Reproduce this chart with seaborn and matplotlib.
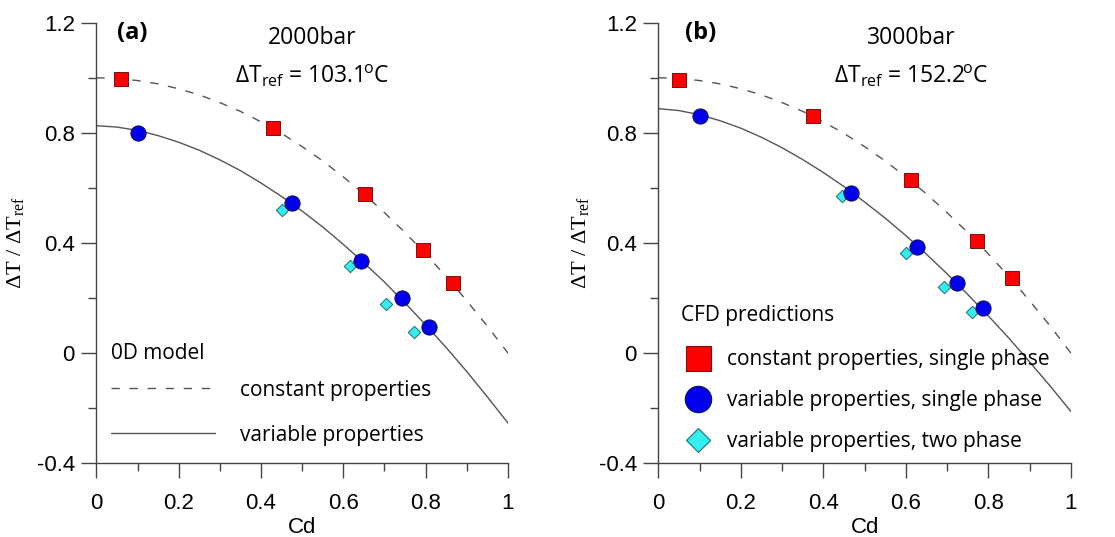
import numpy as np
import pandas as pd
import matplotlib
matplotlib.use("Agg")
import matplotlib.pyplot as plt
from matplotlib.lines import Line2D
import seaborn as sns

# ---------------- data ----------------
cd_grid = [0.0, 0.05, 0.1, 0.15, 0.2, 0.25, 0.3, 0.35, 0.4, 0.45, 0.5,
           0.55, 0.6, 0.65, 0.7, 0.75, 0.8, 0.85, 0.9, 0.95, 1.0]
# 0D model, constant properties (same for both pressures)
model_const = [1.0, 0.998, 0.99, 0.978, 0.96, 0.938, 0.91, 0.878, 0.84, 0.798, 0.75,
               0.698, 0.64, 0.578, 0.51, 0.438, 0.36, 0.278, 0.19, 0.098, 0.0]
# 0D model, variable properties
model_var_a = [0.826, 0.821, 0.809, 0.790, 0.766, 0.737, 0.702, 0.663, 0.618, 0.569, 0.516,
               0.458, 0.395, 0.328, 0.258, 0.182, 0.103, 0.020, -0.067, -0.159, -0.254]
model_var_b = [0.888, 0.881, 0.866, 0.844, 0.817, 0.784, 0.746, 0.703, 0.656, 0.605, 0.549,
               0.490, 0.427, 0.359, 0.288, 0.213, 0.135, 0.054, -0.032, -0.120, -0.212]

# CFD, panel (a) 2000 bar
a_const_cd = [0.06, 0.43, 0.653, 0.793, 0.867]
a_const_dt = [0.996, 0.817, 0.579, 0.375, 0.254]
a_var_cd = [0.102, 0.475, 0.642, 0.742, 0.809]
a_var_dt = [0.799, 0.547, 0.336, 0.200, 0.094]
a_two_cd = [0.452, 0.615, 0.703, 0.772]
a_two_dt = [0.520, 0.315, 0.178, 0.076]

# CFD, panel (b) 3000 bar
b_const_cd = [0.05, 0.375, 0.613, 0.773, 0.857]
b_const_dt = [0.992, 0.862, 0.629, 0.409, 0.272]
b_var_cd = [0.102, 0.466, 0.626, 0.723, 0.786]
b_var_dt = [0.861, 0.581, 0.387, 0.256, 0.163]
b_two_cd = [0.445, 0.600, 0.693, 0.760]
b_two_dt = [0.571, 0.365, 0.242, 0.150]

panel_tags = ["(a)", "(b)"]
pressures = ["2000bar", "3000bar"]
dt_refs = ["103.1", "152.2"]
xticks = [0, 0.2, 0.4, 0.6, 0.8, 1]
xticklabels = ["0", "0.2", "0.4", "0.6", "0.8", "1"]
yticks = [-0.4, 0, 0.4, 0.8, 1.2]
yticklabels = ["-0.4", "0", "0.4", "0.8", "1.2"]

# ---------------- style ----------------
sns.set_theme(style="ticks")
plt.rcParams["font.family"] = ["Open Sans", "DejaVu Sans"]
plt.rcParams["mathtext.fontset"] = "dejavusans"
plt.rcParams["text.color"] = "black"
plt.rcParams["axes.labelcolor"] = "black"
plt.rcParams["xtick.labelcolor"] = "black"
plt.rcParams["ytick.labelcolor"] = "black"

RED, RED_E = "#ff0000", "#7a1010"
BLUE, BLUE_E = "#0000ee", "#10104a"
CYAN, CYAN_E = "#33f0f0", "#1f6f70"
LINE_C = "#555555"
SPINE_C = "#444444"
DASH = (0, (6, 7))

fig = plt.figure(figsize=(11.15, 5.37), dpi=100)
ax_a = fig.add_axes([0.0864, 0.1372, 0.3692, 0.8205])
ax_b = fig.add_axes([0.5904, 0.1372, 0.3701, 0.8205])

panels = [
    (ax_a, model_var_a, a_const_cd, a_const_dt, a_var_cd, a_var_dt, a_two_cd, a_two_dt, 0.525, -0.168),
    (ax_b, model_var_b, b_const_cd, b_const_dt, b_var_cd, b_var_dt, b_two_cd, b_two_dt, 0.612, -0.16),
]

for i, (ax, mvar, cc, cdt, vc, vdt, tc, tdt, tx, ylx) in enumerate(panels):
    sns.lineplot(x=cd_grid, y=model_const, ax=ax, color=LINE_C, lw=1.0, linestyle=DASH)
    sns.lineplot(x=cd_grid, y=mvar, ax=ax, color=LINE_C, lw=1.0)
    sns.scatterplot(x=tc, y=tdt, ax=ax, marker="D", s=40, color=CYAN,
                    edgecolor=CYAN_E, linewidth=0.7, zorder=3)
    sns.scatterplot(x=vc, y=vdt, ax=ax, marker="o", s=120, color=BLUE,
                    edgecolor=BLUE_E, linewidth=0.7, zorder=4)
    sns.scatterplot(x=cc, y=cdt, ax=ax, marker="s", s=95, color=RED,
                    edgecolor=RED_E, linewidth=0.7, zorder=4)

    ax.set_xlim(0, 1)
    ax.set_ylim(-0.4, 1.2)
    ax.set_xticks(xticks)
    ax.set_xticklabels(xticklabels, family=["Liberation Sans"], fontsize=16)
    ax.set_yticks(yticks)
    ax.set_yticklabels(yticklabels, family=["Liberation Sans"], fontsize=16)
    ax.set_xticks(np.arange(0.1, 1.0, 0.2), minor=True)
    ax.set_yticks([-0.2, 0.2, 0.6, 1.0], minor=True)
    ax.tick_params(which="major", direction="out", length=10.5, width=1.0, color=SPINE_C, pad=5)
    ax.tick_params(axis="x", which="major", pad=11)
    ax.tick_params(which="minor", direction="out", length=6, width=1.0, color=SPINE_C)
    sns.despine(ax=ax)
    for sp in ["left", "bottom"]:
        ax.spines[sp].set_color(SPINE_C)
        ax.spines[sp].set_linewidth(1.0)

    ax.set_xlabel("Cd", fontsize=16, family=["Liberation Sans"], labelpad=2)
    ax.set_ylabel("ΔT / ΔT$_\\mathregular{ref}$", fontsize=16, family=["Liberation Serif"])
    ax.yaxis.set_label_coords(ylx, 0.5)

    ax.text(0.05 if i == 0 else 0.065, 1.163, panel_tags[i], fontsize=17, fontweight="bold",
            ha="left", va="center")
    ax.text(tx, 1.145, pressures[i], fontsize=16.5, ha="center", va="center")
    ax.text(tx, 1.005, "ΔT$_\\mathregular{ref}$ = " + dt_refs[i] + "$^\\mathregular{\\!o}$C",
            fontsize=16.5, ha="center", va="center")

# legends
h_const = Line2D([], [], color=LINE_C, lw=1.0, linestyle=DASH)
h_var = Line2D([], [], color=LINE_C, lw=1.0)
leg_a = ax_a.legend([h_const, h_var], ["constant properties", "variable properties"],
                    title="0D model", loc="upper left", bbox_to_anchor=(0.035, 0.272),
                    frameon=False, fontsize=15, title_fontsize=15, handlelength=5.0,
                    handletextpad=1.2, labelspacing=1.15, borderpad=0, borderaxespad=0,
                    alignment="left")
leg_a._legend_box.sep = 11

m_const = Line2D([], [], marker="s", ls="none", ms=18, mfc=RED, mec=RED_E, mew=0.8)
m_var = Line2D([], [], marker="o", ls="none", ms=19, mfc=BLUE, mec=BLUE_E, mew=0.8)
m_two = Line2D([], [], marker="D", ls="none", ms=12, mfc=CYAN, mec=CYAN_E, mew=0.8)
leg_b = ax_b.legend([m_const, m_var, m_two],
                    ["constant properties, single phase", "variable properties, single phase",
                     "variable properties, two phase"],
                    title="CFD predictions", loc="upper left", bbox_to_anchor=(0.055, 0.36),
                    frameon=False, fontsize=15, title_fontsize=15, handlelength=1.6,
                    handletextpad=0.6, labelspacing=0.95, borderpad=0, borderaxespad=0,
                    alignment="left")
leg_b._legend_box.sep = 17

fig.savefig("out.png", dpi=100)
